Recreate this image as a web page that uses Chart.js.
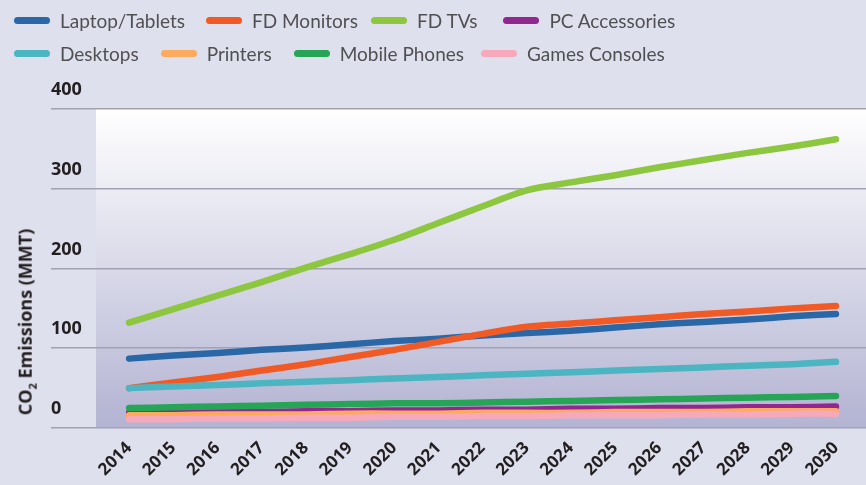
<!DOCTYPE html>
<html>
<head>
<meta charset="utf-8">
<script src="https://cdn.jsdelivr.net/npm/chart.js@4"></script>
<style>
  body { margin: 0; background: #dfe0ee; }
  #wrap { position: relative; width: 866px; height: 485px; background: #dfe0ee; }
  #chart { position: absolute; left: 0; top: 0; }
  #legend { position: absolute; left: 14px; top: 4px; font-family: Lato, sans-serif; font-size: 19px; color: #505052; }
  .row { display: flex; height: 33px; align-items: center; }
  .item { display: flex; align-items: center; margin-right: 21px; }
  .row:first-child .item:nth-child(2) { margin-right: 13px; }
  .row:first-child .item:nth-child(3) { margin-right: 26px; }
  .row:last-child .item:nth-child(1) { margin-right: 22px; }
  .row:last-child .item:nth-child(2) { margin-right: 22px; }
  .row:last-child .item:nth-child(3) { margin-right: 17px; }
  .swatch { width: 36px; height: 7px; border-radius: 4px; margin-right: 10px; }
  #ytitle { position: absolute; left: 26px; top: 322px; transform: translate(-50%, -50%) rotate(-90deg);
            white-space: nowrap; font-family: "Open Sans", sans-serif; font-weight: 700; font-size: 18px; color: #231f20; }
  #ytitle sub { font-size: 11px; }
</style>
</head>
<body>
<div id="wrap">
  <canvas id="chart" width="866" height="485"></canvas>
  <div id="legend"></div>
  <div id="ytitle">CO<sub>2</sub> Emissions (MMT)</div>
</div>
<script>
const years = [2014, 2015, 2016, 2017, 2018, 2019, 2020, 2021, 2022, 2023, 2024, 2025, 2026, 2027, 2028, 2029, 2030];
const yTicks = [0, 100, 200, 300, 400];

const laptopsTablets = [87, 91, 94, 98, 101, 105, 109, 112, 116, 119, 122, 126, 130, 133, 136, 140, 143];
const fdMonitors     = [50, 57, 64, 72, 80, 89, 98, 108, 118, 127, 131, 135, 139, 143, 146, 150, 153];
const fdTVs          = [132, 149, 166, 183, 201, 218, 236, 257, 278, 298, 308, 317, 327, 336, 345, 353, 362];
const pcAccessories  = [19, 19, 20, 20, 21, 21, 22, 22, 23, 23, 24, 24, 25, 25, 26, 26, 27];
const desktops       = [50, 52, 54, 56, 58, 60, 62, 64, 66, 68, 70, 72, 74, 76, 78, 80, 83];
const printers       = [16, 16, 17, 17, 17, 18, 18, 18, 19, 19, 19, 20, 20, 20, 21, 21, 21];
const mobilePhones   = [25, 26, 27, 28, 29, 30, 31, 31, 32, 33, 34, 35, 36, 37, 38, 39, 40];
const gamesConsoles  = [11, 11, 12, 12, 13, 13, 14, 14, 15, 15, 16, 16, 16, 17, 17, 18, 18];

// legend order (row by row), later ones drawn on top
const series = [
  { name: 'Laptop/Tablets', data: laptopsTablets, color: '#2a67a6' },
  { name: 'FD Monitors', data: fdMonitors, color: '#f15a24' },
  { name: 'FD TVs', data: fdTVs, color: '#8dc63f' },
  { name: 'PC Accessories', data: pcAccessories, color: '#92278f' },
  { name: 'Desktops', data: desktops, color: '#4bb5c1' },
  { name: 'Printers', data: printers, color: '#fbaa5e' },
  { name: 'Mobile Phones', data: mobilePhones, color: '#27a556' },
  { name: 'Games Consoles', data: gamesConsoles, color: '#f5a9ba' }
];

// html legend, two rows of four
const legend = document.getElementById('legend');
[series.slice(0, 4), series.slice(4)].forEach(rowItems => {
  const row = document.createElement('div');
  row.className = 'row';
  rowItems.forEach(s => {
    const item = document.createElement('div');
    item.className = 'item';
    item.innerHTML = '<span class="swatch" style="background:' + s.color + '"></span><span>' + s.name + '</span>';
    row.appendChild(item);
  });
  legend.appendChild(row);
});

const plotBackground = {
  id: 'plotBackground',
  beforeDraw(chart) {
    const { ctx, chartArea: a } = chart;
    const g = ctx.createLinearGradient(0, a.top, 0, a.bottom);
    g.addColorStop(0, '#ffffff');
    g.addColorStop(1, '#b3b3d3');
    ctx.save();
    ctx.fillStyle = g;
    ctx.fillRect(a.left, a.top, a.right - a.left, a.bottom - a.top);
    ctx.restore();
  }
};

const ctx = document.getElementById('chart').getContext('2d');
new Chart(ctx, {
  type: 'line',
  data: {
    labels: years,
    datasets: series.map((s, i) => ({
      label: s.name,
      data: s.data,
      borderColor: s.color,
      backgroundColor: s.color,
      borderWidth: 6.5,
      borderCapStyle: 'round',
      borderJoinStyle: 'round',
      pointRadius: 0,
      tension: 0.3,
      order: series.length - i
    }))
  },
  options: {
    responsive: false,
    animation: false,
    layout: { padding: { left: 51, top: 109, right: 0, bottom: 0 } },
    plugins: { legend: { display: false }, tooltip: { enabled: false } },
    scales: {
      x: {
        type: 'linear',
        min: years[0] - 0.75,
        max: years[years.length - 1] + 0.68,
        grid: { display: false },
        border: { display: false },
        afterFit(scale) { scale.height = 57; },
        ticks: {
          stepSize: 1,
          includeBounds: false,
          minRotation: 45,
          maxRotation: 45,
          padding: 2,
          color: '#231f20',
          font: { family: 'Open Sans', weight: 'bold', size: 17 },
          callback: v => String(v)
        }
      },
      y: {
        min: yTicks[0],
        max: yTicks[yTicks.length - 1],
        border: { display: false },
        grid: { color: '#a2a2b2', lineWidth: 1.6, tickLength: 45 },
        afterFit(scale) { scale.width = 45; },
        afterBuildTicks(scale) { scale.ticks = yTicks.map(v => ({ value: v })); },
        ticks: {
          padding: 0,
          crossAlign: 'far',
          labelOffset: -19,
          color: '#231f20',
          font: { family: 'Open Sans', weight: 'bold', size: 18 }
        }
      }
    }
  },
  plugins: [plotBackground]
});
</script>
</body>
</html>
